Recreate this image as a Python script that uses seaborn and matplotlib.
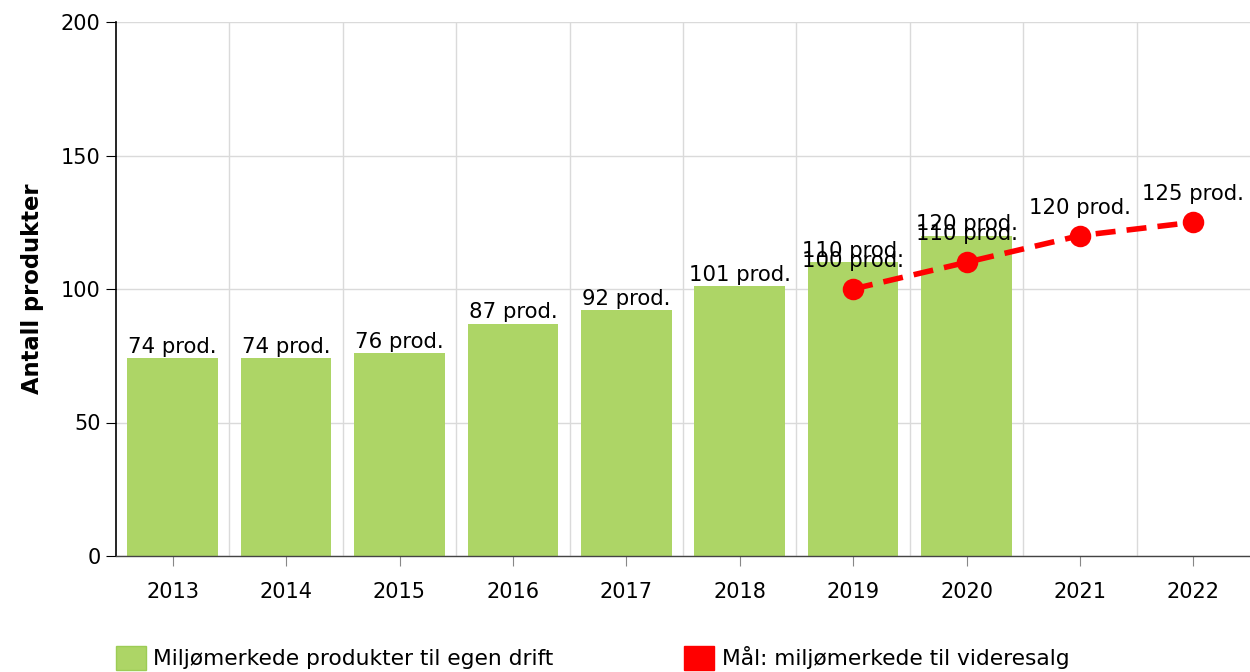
import pandas as pd
import numpy as np
import matplotlib.pyplot as plt
import matplotlib.patches as mpatches
from matplotlib.ticker import FixedLocator
import seaborn as sns

years = ['2013', '2014', '2015', '2016', '2017', '2018', '2019', '2020', '2021', '2022']
bar_years = ['2013', '2014', '2015', '2016', '2017', '2018', '2019', '2020']
bar_values = [74, 74, 76, 87, 92, 101, 110, 120]
goal_years = ['2019', '2020', '2021', '2022']
goal_values = [100, 110, 120, 125]

green = '#add566'
red = '#ff0000'

sns.set_style('white')
plt.rcParams['font.family'] = ['DejaVu Sans']
plt.rcParams['text.color'] = 'black'
plt.rcParams['axes.labelcolor'] = 'black'
plt.rcParams['xtick.color'] = 'black'
plt.rcParams['ytick.color'] = 'black'

df_bar = pd.DataFrame({'year': bar_years, 'value': bar_values})
df_goal = pd.DataFrame({'year': goal_years, 'value': goal_values})

fig = plt.figure(figsize=(12.5, 6.72), dpi=100)
ax = fig.add_axes([116 / 1250, 1 - 556 / 672, 1 - 116 / 1250, (556 - 22) / 672])

sns.barplot(data=df_bar, x='year', y='value', order=years, color=green,
            width=0.8, saturation=1, linewidth=0, ax=ax, zorder=2)
bars = ax.containers[0]
ax.bar_label(bars, labels=[f'{v} prod.' for v in bar_values], padding=1,
             fontsize=15.3, color='black')

sns.pointplot(data=df_goal, x='year', y='value', order=years, color=red,
              linestyles='--', markers='o', markersize=12.5, linewidth=4,
              ax=ax, zorder=4)
for line in ax.lines:
    line.set_dashes([3.6, 2.0])
    line.set_dash_capstyle('butt')
pos = {y: i for i, y in enumerate(years)}
for yr, v in zip(goal_years, goal_values):
    ax.annotate(f'{v} prod.', (pos[yr], v), xytext=(0, 13), textcoords='offset points',
                ha='center', va='bottom', fontsize=15.3, color='black', zorder=5)

ax.set_xlim(-0.5, len(years) - 0.5)
ax.set_ylim(0, 200)
ax.set_yticks([0, 50, 100, 150, 200])
ax.xaxis.set_minor_locator(FixedLocator(np.arange(0.5, len(years) - 0.5, 1)))
ax.grid(axis='y', which='major', color='#dadada', linewidth=1, zorder=0)
ax.grid(axis='x', which='minor', color='#dadada', linewidth=1, zorder=0)
ax.set_axisbelow(True)

ax.set_xlabel('')
ax.set_ylabel('Antall produkter', fontsize=16.3, fontweight='bold', labelpad=12)
ax.tick_params(axis='x', which='major', length=7, color='#888888', labelsize=15,
               pad=12, direction='out', bottom=True, labelcolor='black')
ax.tick_params(axis='x', which='minor', length=0)
ax.tick_params(axis='y', length=7, color='black', labelsize=15, pad=4,
               direction='out', left=True, labelcolor='black')
for s in ['top', 'right']:
    ax.spines[s].set_visible(False)
ax.spines['left'].set_color('black')
ax.spines['left'].set_linewidth(1.2)
ax.spines['bottom'].set_color('#444444')
ax.spines['bottom'].set_linewidth(1.0)

handles = [mpatches.Patch(facecolor=green, edgecolor='#9ccc55', label='Miljømerkede produkter til egen drift'),
           mpatches.Patch(facecolor=red, edgecolor='#ff0000', label='Mål: miljømerkede til videresalg')]
fig.legend(handles=handles, loc='center left', bbox_to_anchor=(116 / 1250, 1 - 658 / 672),
           ncol=2, frameon=False, fontsize=15.7, handlelength=1.38, handleheight=1.38,
           handletextpad=0.33, columnspacing=6.0, borderpad=0, borderaxespad=0)

fig.savefig('out.png', dpi=100)
